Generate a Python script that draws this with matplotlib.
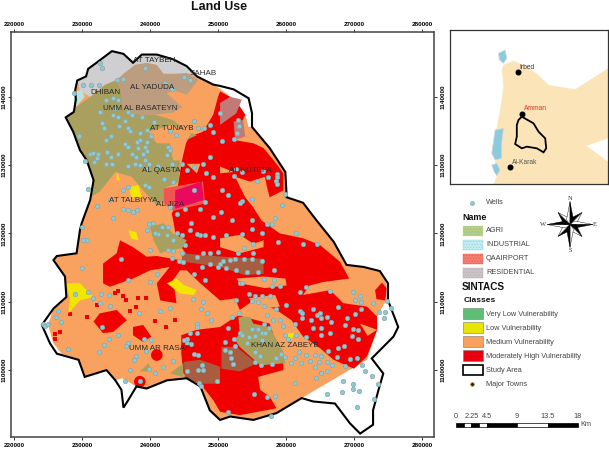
import numpy as np
import matplotlib
matplotlib.use("Agg")
import matplotlib.pyplot as plt
from matplotlib.patches import Polygon, Rectangle, Circle
from matplotlib.ticker import StrMethodFormatter

plt.rcParams['font.family'] = ['Liberation Sans', 'DejaVu Sans']
plt.rcParams['hatch.linewidth'] = 0.4

# ---------- map data (easting, northing in km) ----------
STUDY_AREA = [(227.6,1137),(228.8,1137.8),(229.1,1139.6),(229,1141),(229.3,1142.4),(230.6,1143),(230.9,1144.1),(232.4,1145.2),(234.4,1146.7),(236.1,1146.3),(237.5,1145),(238.8,1146.2),(241,1146.2),(243.4,1145.5),(245.4,1144.5),(246.9,1143),(249.3,1141.8),(250.3,1141.6),(252.3,1141.1),(254.5,1139.8),(255,1137.6),(255,1135.6),(257.6,1132.5),(259.9,1129),(260.1,1125.3),(262.5,1124.5),(264.5,1121.9),(267,1118.8),(268.9,1115.4),(271.4,1115.1),(273.8,1114.5),(275,1112.7),(275,1110.2),(276.5,1106.3),(275.8,1104.9),(272.6,1101.7),(274.3,1099.5),(273.6,1097.1),(272.8,1094.1),(272.8,1092),(270.9,1090.7),(269.4,1092.2),(267.2,1095.1),(264,1095.4),(262.3,1095.9),(258.6,1093.7),(255.2,1092.7),(251.8,1093.2),(250.3,1092.7),(248.8,1094.1),(247.4,1097.6),(245.4,1098.8),(242.5,1098.5),(239.5,1097.3),(238,1097.6),(236.8,1095.6),(236.1,1094.5),(235.8,1097.1),(234.9,1098.5),(233.6,1100),(230.4,1099),(229.5,1101.5),(226.3,1102.4),(225.3,1103.9),(224.1,1106.6),(225.8,1109),(227.7,1110.7),(227.5,1113.7),(225.8,1116.1),(226.3,1116.7),(229.2,1117.1),(229.7,1120.5),(229.95,1121.5),(231.2,1124.9),(231.7,1127.8),(230.7,1130.7),(229.7,1132.2),(228.7,1134.9)]

MEDIUM = [(227.6,1137),(228.8,1137.8),(229.1,1139.6),(229,1141),(229.3,1142.4),(230.6,1143),(230.9,1144.1),(232.4,1145.2),(234.4,1146.7),(236.1,1146.3),(237.5,1145),(238.8,1146.2),(241,1146.2),(243.4,1145.5),(245.4,1144.5),(246.9,1143),(249.3,1141.8),(250.3,1141.2),(251.8,1140),(253.2,1138.6),(254,1137.4),(254.5,1135.6),(255,1135.6),(257.6,1132.5),(259.9,1129),(260.1,1125.3),(262.5,1124.5),(264.5,1121.9),(267,1118.8),(268.9,1115.4),(271.4,1115),(273.8,1114.5),(274.8,1112.7),(274.8,1110.4),(273.4,1107.8),(273.4,1105.9),(271.9,1101.5),(262.3,1095.9),(258.6,1093.7),(255.2,1092.7),(251.8,1093.2),(250.3,1092.7),(248.8,1094.1),(247.4,1097.6),(245.4,1098.8),(242.5,1098.5),(239.5,1097.3),(238,1097.6),(235.9,1098.8),(234.9,1098.5),(233.6,1100),(230.4,1099),(229.5,1101.5),(227,1102.4),(225.8,1103.9),(225,1106.6),(225.8,1109),(227.7,1110.7),(227.5,1113.7),(225.8,1116.1),(226.3,1116.7),(229.2,1117.1),(229.7,1120.5),(229.95,1121.5),(231.2,1124.9),(231.7,1127.8),(230.7,1130.7),(229.7,1132.2),(228.7,1134.9)]

HIGH_MAIN = [(244.7,1130.7),(244.9,1132.7),(245.9,1134.2),(247.8,1134.9),(249.3,1137.4),(250,1140),(250.3,1140.8),(251.8,1140),(253.2,1138.6),(254,1137.4),(252.3,1133.7),(255.2,1133.2),(256.7,1132.5),(258.6,1130.2),(259.6,1128.8),(259.6,1126.3),(257.6,1125.3),(257.2,1126.8),(256.9,1128.3),(254.7,1127.6),(252.5,1128.3),(254,1125.3),(255.2,1123.8),(256.4,1121.9),(259.1,1120),(262.5,1119.3),(265,1118.3),(267.9,1115.9),(269.3,1113.4),(265.5,1112.9),(263.5,1112.4),(262.5,1111),(266.5,1111.7),(268.4,1109.8),(271.9,1109.3),(273.4,1107.8),(273.4,1105.9),(271.9,1102),(270,1100.2),(267,1101.5),(265,1103.2),(262.5,1104.9),(260.8,1107.3),(258.6,1108.8),(255.2,1110.2),(253.2,1108.8),(252.5,1110.5),(250.3,1110.2),(247.4,1112.7),(245.4,1114.6),(246.1,1115.9),(243.9,1119),(243.4,1122),(243.2,1122.9),(243.4,1123.3),(244.2,1127.5)]
HIGH_WEST = [(233.1,1115.6),(235.1,1117.1),(235.6,1119),(237.5,1118),(239.5,1116.6),(241,1116.7),(244.4,1116.1),(246.9,1115.6),(247.4,1114.6),(244.4,1114.6),(243.4,1113.2),(243.9,1109.8),(241.5,1110.2),(241,1112.7),(242.9,1115.1),(240,1114.6),(237.5,1113.4),(234.1,1112.2),(233.1,1112.7)]
HIGH_SOUTH = [(244.6,1105.1),(246.9,1105.9),(250.3,1106.3),(251.8,1107.3),(253,1108),(257.6,1106.8),(259.6,1101),(259.6,1100),(255.9,1099),(256.2,1097.1),(257.6,1096.1),(258.6,1094.4),(253.2,1093.4),(250.3,1093.9),(249.3,1095.6),(247.4,1098),(244.9,1099.5),(244.6,1102.4)]
HIGH_PATCH_1 = [(231.7,1107.1),(232.6,1108.3),(235.1,1108.8),(236.6,1107.3),(234.6,1105.6),(233.1,1105.4)]
HIGH_PATCH_2 = [(237.5,1106.3),(239,1106.6),(240.2,1104.9),(239,1104.1),(237.5,1105.1)]
HIGH_PATCH_3 = [(273.1,1111.7),(274.1,1112.8),(274.8,1112),(274.6,1110.2),(273.3,1110.4)]
HIGH_SPOTS = [(241,1102.2),(238.5,1098.3)]
HIGH_SPECKS = [(236,1110.8),(236.5,1110.3),(238.2,1110.5),(239.4,1110.5),(234.8,1111.3),(235.3,1111.6),(232.2,1109.5),(228.2,1108.2),(230.7,1107.7),(226,1105.3),(226,1104.6),(226.8,1105.6),(238,1109.2),(237,1108.6),(240.7,1107.2),(242.3,1106.3),(243.7,1107.4)]

MEDIUM_STREAKS = [
    [(250.3,1119.3),(253.2,1119.8),(255.2,1118.5),(256.7,1119),(256.7,1118),(253.2,1117.1),(250.3,1118)],
    [(252.7,1113.4),(256.7,1113.7),(259.9,1113.4),(260.1,1112.4),(256.9,1112),(253.2,1112.7)],
    [(254.5,1110.5),(258.4,1111),(259.1,1109.3),(256.7,1109)],
    [(245.4,1130.2),(247.4,1130.2),(246.9,1128.8)],
    [(250.3,1129.8),(252.3,1129),(250.3,1128.8)],
    [(270.9,1106.8),(273.4,1105.9),(272,1105)],
]

LOW = [
    [(236.8,1126.8),(238.3,1127.1),(238.8,1125.3),(237.3,1125.3)],
    [(235.1,1129),(235.6,1127.8),(235.1,1127.8)],
    [(227.7,1112.7),(229.7,1112.7),(231.7,1110.7),(229.7,1110.2),(228,1108.3),(228.2,1110.5)],
    [(242.5,1112.7),(243.9,1113.4),(244.9,1112.5),(246.9,1111.7),(246.4,1111),(244.4,1111.2)],
    [(259.9,1105.4),(261.3,1105.4),(260.8,1104.5),(260.1,1104.6)],
    [(236.8,1120.5),(238,1120.2),(238.3,1119),(237.3,1119.2)],
]

RESIDENTIAL = [(229.7,1140.9),(229.3,1142.4),(230.6,1142.9),(230.9,1144.1),(232.4,1145.2),(234.4,1146.7),(236.1,1146.3),(237.5,1145),(238.8,1146.2),(241,1146.2),(243.4,1145.5),(245.4,1144.5),(246.9,1143),(245.4,1143.5),(243.9,1143.4),(242,1143.4),(241,1144.7),(239.5,1145),(237.8,1144.7),(236.1,1143.4),(235.1,1142.5),(233.4,1141.8),(231.2,1140)]
RES_ON_MEDIUM = [(236.1,1143.4),(237.8,1144.7),(239.5,1145),(241,1144.7),(242,1143.4),(245.4,1143.5),(247.1,1142.5),(245.4,1140.3),(243.4,1141),(242.5,1140.5),(244.7,1138.5),(243.4,1137.7),(240.7,1137.4),(237.1,1137.5),(236,1138.6),(235.7,1141),(235.1,1142.5)]
AGRI_NORTH = [(229.1,1138.5),(231.2,1140),(233.4,1141.8),(235.1,1142.5),(235.7,1141),(236,1138.6),(237.1,1137.5),(240.7,1137.4),(243.4,1136.6),(245.4,1135),(246.9,1134.4),(245.4,1133.7),(244.7,1132.2),(244.4,1130.5),(244.2,1127.5),(242,1126.6),(242,1124.9),(241,1124.1),(239,1126.3),(237.3,1128.3),(234.9,1129),(232.6,1126.1),(231.2,1125.3),(231.7,1127.8),(230.7,1130.7),(229.7,1132.2),(228.7,1134.9),(227.6,1137),(228.8,1137.8)]
MEDIUM_IN_AGRI = [(239.8,1134.9),(243.2,1135.9),(246.1,1134.7),(245.4,1133.7),(244.7,1130.7),(243.4,1130.7),(242.9,1133.2),(241,1133.2)]
AGRI_SMALL = [
    [(240,1121),(242,1121.5),(243.4,1120),(245.4,1119),(244.7,1117.8),(242.9,1117.6),(241.5,1117.1),(240.5,1119)],
    [(253,1107.8),(254.7,1107.8),(255.2,1106.8),(257.6,1106.3),(259.6,1102.7),(259.9,1101),(256.2,1100.7),(253.2,1103.4),(252.5,1104.4),(253.2,1105.4)],
    [(242.9,1099.5),(244.9,1101),(244.9,1099)],
    [(238.5,1099.8),(239.8,1101),(240.2,1099.8)],
]
AGRI_ON_HIGH = [
    [(244.7,1117.1),(250.8,1116.6),(256.7,1116.3),(256.7,1114.1),(254,1113.9),(250.3,1115.1),(244.7,1115.9)],
    [(250.5,1103.4),(252.7,1103.4),(255.7,1101),(253.2,1099.8),(250.5,1100.2)],
    [(245,1101.2),(247.4,1101.5),(250.3,1100.5),(250.3,1098),(247.4,1098),(245.1,1098.8)],
]
RES_ON_HIGH = [
    [(250.3,1139.1),(251.8,1140),(253.5,1139.6),(252.7,1137.6),(250.3,1135.9)],
    [(252.3,1136.4),(253.7,1136.6),(254,1134.2),(252.5,1133.7)],
]
INDUSTRIAL = [(228.8,1140.8),(230,1141),(230.4,1140),(229.2,1138.6),(228.8,1139)]
AIRPORT_OUTER = [(242,1126.6),(247.8,1127.6),(248.1,1124.4),(243.4,1123.3),(242,1124.4)]
AIRPORT_INNER = [(243.7,1126.3),(247.6,1127.6),(247.9,1124.9),(243.7,1123.6)]

WELLS_NORTH = [(232.6,1145),(233,1144.3),(230.2,1141.7),(231.3,1141.7),(232.5,1141.8),(235.1,1142.4),(236.1,1142.6),(239.3,1144.2),(242.2,1142.1),(243.2,1141.1),(245,1142.9),(245.9,1142.4),(228.8,1140.5),(233.5,1139.6),(234.5,1139.8),(235.3,1139.6),(234.9,1138.3),(232.6,1137.8),(234.6,1137.4),(235.3,1137.1),(236.8,1137.8),(237.4,1137.3),(238.8,1137),(232.9,1136.2),(233.3,1135.4),(235.5,1135.8),(236.3,1136.4),(236.8,1135.5),(237.1,1135),(240.6,1136.3),(239.5,1135.2),(246.5,1136.5),(247.1,1135.5),(242.9,1135),(243.8,1134.4),(240.2,1134.2),(248.8,1135.9),(247.9,1135.4),(249.3,1134.9),(229.5,1134.3),(234.3,1134.3),(233.6,1133.7),(238.5,1134.7),(238.5,1133.7),(238.1,1133.4),(239.5,1133.4),(236.3,1133.1),(236.8,1132.6),(238.3,1132.5),(239.3,1132.7),(239.5,1132.1),(239,1131.7),(242.7,1132.7),(242.9,1132.2),(242.5,1131.5),(231.2,1131.7),(231.6,1131.8),(232.3,1131.6),(233.7,1132),(234.2,1131.2),(235.3,1131.6),(237.3,1131.7),(238,1131.2),(232.2,1131),(230.4,1130.6),(231.8,1130.4),(233.6,1130.2),(234.4,1130.2),(236.7,1129.9),(237.8,1130.2),(238.5,1130),(239.3,1130.7),(239.8,1130.2),(239.5,1129.5),(241.2,1129.9),(243.2,1130.2),(242,1128),(243.4,1127.5),(244.7,1130.2),(245.4,1129.3),(246.4,1129.8),(247.8,1130.2),(248.8,1131.2),(248.3,1128.8),(249.3,1128.3),(230.9,1126.5),(236.1,1126.3),(236.8,1126.8),(239.3,1127.1),(239.8,1126.8),(246.4,1126.3),(234.1,1124.9),(232.2,1124),(236.1,1123.6),(236.8,1123.4),(237.5,1123.1),(238.1,1123.4),(234.6,1122.2),(248.1,1124.6),(249.3,1122.4),(245.1,1123.6),(243.9,1122.9),(242.9,1123.9),(247.4,1123.6)]
WELLS_NORTHEAST = [(250.3,1137.6),(252.9,1136.6),(253.1,1135.7),(252.8,1134.7),(252.4,1133.9),(250.6,1133.5),(252.6,1129.5),(253.6,1129),(252.4,1128.4),(256.6,1129.2),(257.4,1128.3),(258.7,1128.7),(258.7,1128.2),(258.6,1127.7),(258.7,1127.3),(255.8,1127.7),(250.6,1126.3),(251.4,1125.7),(255,1125),(253.6,1124.7),(253.3,1124.4),(259.8,1125.8),(259.4,1124.2),(250.5,1123.1),(258.4,1122.2),(255,1121.9),(252,1121.9)]
WELLS_SOUTHEAST = [(251.2,1119.8),(253.6,1119.9),(255,1120.7),(256.4,1120.1),(257.2,1121.4),(257.9,1121.4),(258.8,1118.8),(261.5,1120.1),(262.5,1118.4),(264.5,1118.5),(255.2,1118.5),(253.8,1117.9),(253,1117.1),(255.2,1117.2),(255,1116.3),(250.8,1115.9),(251.8,1116.1),(252.5,1116.2),(253.8,1116.2),(256.4,1116),(250.3,1115.6),(251.2,1114.9),(252.7,1114.6),(254.2,1114.4),(255.9,1114.4),(256.7,1113.3),(258.2,1114.7),(258.3,1113.2),(259.1,1112.3),(258,1112.3),(253.3,1112.8),(253.6,1112.7),(254.6,1111.1),(255.5,1110.9),(256.5,1110.9),(257.7,1110.8),(262,1111.5),(262.9,1112.1),(266.5,1111.6),(269.9,1111.4),(270.9,1110.9),(270.1,1110.2),(271,1110),(252.6,1110.3),(255,1110.1),(255.9,1109.9),(256.7,1109.4),(260,1109.6),(258.5,1108.9),(263.9,1109),(267.7,1109.2),(262,1108.7),(262.3,1108.3),(264.5,1108),(265,1108.4),(266,1107.8),(265.1,1107.6),(262.3,1107.6),(263.7,1107.3),(266.6,1107.1),(268.9,1107.6),(270.1,1108.2),(271,1109),(272.8,1109.8),(273.6,1108.5),(274.6,1108.5),(274.8,1110.1),(275.4,1109.1),(274.4,1107.6),(257.2,1108),(258.1,1107.4),(259.1,1107.4),(253.1,1108.4),(252.1,1107.7),(259.5,1106.4),(261.3,1106.8),(268.7,1106.6),(264,1106.2),(265.2,1106.2),(266.4,1105.5),(265.1,1105.1),(269.9,1106),(270.6,1105.8),(269.7,1105),(270.6,1104.6),(263,1104.9),(261.5,1105.1),(259.9,1105.1),(260.3,1104.6),(251.5,1106.2),(256.7,1106.7),(255.9,1106),(255,1106),(254.5,1104.9),(253.2,1105.4),(253.5,1105.1),(255.4,1105),(256.4,1105.4),(257.5,1106.1),(256.9,1105.4),(252.4,1104.6),(256.4,1104.4),(251,1104.1),(254.2,1104),(252.5,1103.5),(251,1102.9),(255.4,1102.7),(251.7,1102.7),(251.9,1101.7),(256.2,1102),(252.2,1100.9),(255.4,1101.2),(257.9,1100.9),(256.3,1100.7),(258.6,1101.7),(259.3,1102.4),(259.9,1101.9),(260.8,1101),(261.3,1101.7),(262.2,1101.1),(261.9,1102.6),(262.9,1102.2),(263.5,1101.4),(264.2,1102.2),(265.2,1102),(266,1101.2),(264.8,1101.2),(264.3,1100.5),(266,1099.8),(265.1,1099.5),(264.4,1098.9),(266.8,1100.8),(267.5,1101.9),(267.7,1103.2),(268.5,1103.5),(266.2,1102.8),(269.4,1101.6),(270.4,1101.7),(268.7,1100.6),(271.2,1100.8),(271.6,1099.9),(272.6,1099.2),(273.5,1098),(268.4,1098.4),(269.8,1098),(269.9,1097.2),(270.8,1096.9),(268.2,1096.8),(266,1096.5),(272.9,1095.8),(270.5,1094.6),(261.3,1098.1),(255.3,1096.5),(257.2,1096),(258.4,1096.2),(257.8,1093.3),(251.5,1093.9)]
WELLS_SOUTHWEST = [(230,1120.9),(230.1,1119),(230.8,1119.1),(230,1115),(235.8,1116.3),(240,1117.6),(241,1114.1),(236.7,1113.2),(240,1112.9),(230.9,1111.4),(232.8,1111.1),(233.9,1111),(231.6,1110.5),(229,1111.2),(232.6,1109.8),(234.1,1109.4),(238.4,1108.4),(241.5,1108.7),(242.9,1109.1),(246.3,1110.4),(247.5,1109),(248.4,1108.4),(248.9,1107.4),(246.9,1106.8),(246.9,1106.3),(226.9,1107),(226.2,1107.8),(224.3,1106.7),(224.6,1106.4),(225,1106.7),(226.5,1108.7),(232.9,1106.3),(233.9,1104.6),(235.3,1105.2),(239.1,1104.5),(240.1,1104.4),(245.9,1105.4),(245.4,1104.6),(246.9,1105.5),(245,1104.4),(246.1,1103.8),(245.4,1103.9),(236.8,1103.9),(236.5,1103.5),(233.2,1103.6),(232.5,1102.6),(228,1103.1),(239.4,1102.8),(238,1102),(237.7,1101.5),(243.4,1101.4),(241.9,1100.4),(239.9,1100.2),(240.7,1099.6),(237.1,1100),(236.3,1098.4),(238.5,1098.4),(245.4,1099.8),(247.1,1102.2),(246.4,1102.3),(247.7,1100.8),(247.1,1100),(247.8,1100),(249.8,1098.4),(247.2,1098.1),(247.5,1097.7),(248.1,1113.2),(247.8,1110),(246.4,1114.1),(247.6,1115.1),(248.8,1115.6),(250,1115.1),(246.9,1116.6),(247.8,1117.1),(248.8,1117.1),(250,1117.3),(244.2,1116),(244.9,1115.8),(243.2,1116.4),(244.7,1117.1),(242.7,1117.6),(243.4,1117.5),(247.4,1119.8),(248.1,1119.8),(249.3,1119.5),(246.9,1119.9),(245.9,1120.5),(246.1,1121.6),(244.7,1119.8),(243.9,1120),(242.5,1119.8),(241.2,1119.9),(240.7,1120),(239.5,1120.5),(239.8,1121.4),(240.5,1121.5),(241.7,1121),(242.7,1121),(243.4,1119),(245.1,1118.3)]

PLACE_NAMES = ["AT TAYBEH","SAHAB","DHIBAN","AL YADUDA","UMM AL BASATEYN","AT TUNAYB","AL QASTAL","AL JIZA","AT TALBIYYA","AL KUTEFA","UMM AR RASAS","KHAN AZ ZABEYB"]
PLACE_E = [240.6,247.8,233.4,240.3,238.5,243.2,242,242.9,237.5,254.8,241.4,259.8]
PLACE_N = [1145.4,1143.4,1140.7,1141.4,1138.3,1135.4,1129.2,1124.2,1124.9,1129.2,1103.1,1103.6]

X_TICKS = [220000,230000,240000,250000,260000,270000,280000]
Y_TICKS = [1100000,1110000,1120000,1130000,1140000]

# ---------- inset data ----------
COUNTRY = [(185,150),(190,135),(220,122),(260,140),(295,165),(325,195),(405,208),(503,145),(503,355),(437,378),(470,400),(503,425),(503,492),(160,492),(170,470),(165,420),(155,395),(170,320),(180,270),(190,200)]
LAKE_NORTH = [(175,100),(195,90),(200,115),(190,130),(178,120)]
LAKE_DEAD = [(165,330),(190,325),(185,370),(185,415),(165,420),(155,400)]
LAKE_SOUTH = [(155,435),(170,430),(180,450),(170,467),(162,455)]
INSET_STUDY = [(235,300),(245,290),(280,310),(295,335),(315,355),(318,385),(310,397),(290,385),(260,380),(245,385),(225,372),(230,350),(230,315)]
TOWNS = ["Irbed","Amman","Al-Karak"]
TOWN_X = [233,247,209]
TOWN_Y = [157,283,442]
TOWN_LABEL_X = [238,251,215]
TOWN_LABEL_Y = [143,267,427]
TOWN_COLORS = ["#333333","#E0301E","#555555"]

# ---------- legend data ----------
LAND_CLASSES = ["AGRI","INDUSTRIAL","QAAIRPORT","RESIDENTIAL"]
LAND_COLORS = ["#A9C98C","#C5EBF2","#F47F70","#C9C5CB"]
LAND_HATCH_COLORS = ["#E3DC70","#8FD0DA","#E85A55","#BFA8A8"]
VULN_CLASSES = ["Very Low Vulnerability","Low Vulnerability","Medium Vulnerability","Moderately High Vulnerability"]
VULN_COLORS = ["#5CBF75","#E6E600","#F9A05C","#E8000F"]
SCALE_STOPS = [0,1.125,2.25,3.375,4.5,9,13.5,18]
SCALE_LABELS = [0,2.25,4.5,9,13.5,18]

C_ORANGE, C_RED, C_OLIVE, C_BROWN = "#F9A25F", "#F00000", "#A9A060", "#A85C40"
W, H = 609, 450
fig = plt.figure(figsize=(W/100, H/100), dpi=100, facecolor="white")

def px_axes(l, t, r, b, **kw):
    return fig.add_axes([l/W, 1-b/H, (r-l)/W, (b-t)/H], **kw)

# ---------- main map ----------
ax = px_axes(11, 32, 434, 437)
ax.set_xlim(219560, 281760)
ax.set_ylim(1090200, 1149500)

def poly(pts, color, z):
    xy = np.array(pts) * 1000
    ax.add_patch(Polygon(xy, closed=True, fc=color, ec="none", zorder=z))

poly(MEDIUM, C_ORANGE, 1)
for p in (HIGH_MAIN, HIGH_WEST, HIGH_SOUTH, HIGH_PATCH_1, HIGH_PATCH_2, HIGH_PATCH_3):
    poly(p, C_RED, 2)
for e, n in HIGH_SPOTS:
    ax.add_patch(Circle((e*1000, n*1000), 850, fc=C_RED, ec="none", zorder=2))
specks = np.array(HIGH_SPECKS) * 1000
ax.scatter(specks[:,0], specks[:,1], s=5, c=C_RED, marker="s", linewidths=0, zorder=2)
for p in MEDIUM_STREAKS:
    poly(p, C_ORANGE, 3)
for p in LOW:
    poly(p, "#F2E600", 3)
poly(AGRI_NORTH, C_OLIVE, 4)
poly(MEDIUM_IN_AGRI, C_ORANGE, 4.5)
for p in AGRI_SMALL:
    poly(p, C_OLIVE, 4)
for p in AGRI_ON_HIGH:
    poly(p, C_BROWN, 4)
poly(RES_ON_MEDIUM, "#BC9D80", 4)
poly(RESIDENTIAL, "#CFCED1", 4)
for p in RES_ON_HIGH:
    poly(p, "#C27A78", 4)
poly(INDUSTRIAL, "#BEE3DE", 4)
poly(AIRPORT_OUTER, "#F0564F", 4)
poly(AIRPORT_INNER, "#E90A60", 4.2)

study = np.array(STUDY_AREA) * 1000
ax.add_patch(Polygon(study, closed=True, fc="none", ec="black", lw=1.5, zorder=5))

wells = np.array(WELLS_NORTH + WELLS_NORTHEAST + WELLS_SOUTHEAST + WELLS_SOUTHWEST) * 1000
ax.scatter(wells[:,0], wells[:,1], s=10, c="#8FC9D2", edgecolors="#86A8AC", linewidths=0.5, zorder=6)

for name, e, n in zip(PLACE_NAMES, PLACE_E, PLACE_N):
    ax.text(e*1000, n*1000, name, fontsize=5.8, color="#2A2A2A", ha="center", va="center", zorder=7)

fmt = StrMethodFormatter("{x:.0f}")
ax.set_xticks(X_TICKS)
ax.set_yticks(Y_TICKS)
ax.xaxis.set_major_formatter(fmt)
ax.yaxis.set_major_formatter(fmt)
ax.tick_params(axis="x", top=True, bottom=True, labeltop=True, labelbottom=False, length=2.2, width=0.7, pad=1.2, color="#333333")
ax.tick_params(axis="y", left=True, right=True, labelleft=True, length=2.2, width=0.7, pad=0.8, color="#333333")
for tick in ax.xaxis.get_major_ticks():
    tick.label2.set_fontweight("bold"); tick.label2.set_fontsize(4.6)
for tick in ax.yaxis.get_major_ticks():
    tick.label1.set_fontweight("bold"); tick.label1.set_fontsize(4.6)
    tick.label1.set_rotation(90); tick.label1.set_va("center")

sx = ax.secondary_xaxis("bottom")
sx.set_xticks(X_TICKS)
sx.xaxis.set_major_formatter(fmt)
sx.tick_params(length=0, pad=4.2, labelsize=4.6)
sx.spines["bottom"].set_visible(False)
for t in sx.get_xticklabels():
    t.set_fontweight("bold")

sy = ax.secondary_yaxis("right")
sy.set_yticks(Y_TICKS)
sy.yaxis.set_major_formatter(fmt)
sy.tick_params(length=0, pad=5, labelsize=4.6)
sy.spines["right"].set_visible(False)
for t in sy.get_yticklabels():
    t.set_rotation(90); t.set_va("center"); t.set_fontweight("bold")

for s in ax.spines.values():
    s.set_color("#444444"); s.set_linewidth(1.1)

# ---------- inset ----------
ins = px_axes(450, 30, 608, 184)
ins.set_xlim(30, 503); ins.set_ylim(492, 30)
ins.set_xticks([]); ins.set_yticks([])
for s in ins.spines.values():
    s.set_color("#333333"); s.set_linewidth(0.9)
ins.add_patch(Polygon(COUNTRY, fc="#FBE4B8", ec="none"))
for lake in (LAKE_NORTH, LAKE_DEAD, LAKE_SOUTH):
    ins.add_patch(Polygon(lake, fc="#8CCBDD", ec="#D8D8D8", lw=0.5))
ins.add_patch(Polygon(INSET_STUDY, fc="none", ec="black", lw=1.3))
ins.scatter(TOWN_X, TOWN_Y, s=11, c="black", zorder=4)
for name, lx, ly, c in zip(TOWNS, TOWN_LABEL_X, TOWN_LABEL_Y, TOWN_COLORS):
    ins.text(lx, ly, name, fontsize=4.8, color=c, va="center")

# ---------- overlay: title, legend, scale bar, compass ----------
ov = fig.add_axes([0, 0, 1, 1], facecolor="none")
ov.set_xlim(0, W); ov.set_ylim(H, 0); ov.axis("off")
ov.text(219, 7, "Land Use", fontsize=8.9, fontweight="bold", ha="center", va="center", color="#111111")

TXT = "#444444"
def row_text(y, s):
    ov.text(486, y, s, fontsize=5.35, color=TXT, va="center")

ov.scatter([472], [203], s=9, c="#8FC9D2", edgecolors="#86A8AC", linewidths=0.4)
row_text(203, "Wells")
ov.text(462, 217, "Name", fontsize=6.4, fontweight="bold", va="center", color="#111111")
for i, (name, col, hc) in enumerate(zip(LAND_CLASSES, LAND_COLORS, LAND_HATCH_COLORS)):
    y = 226 + i*13.9
    ov.add_patch(Rectangle((463, y), 20, 10, fc=col, ec=hc, lw=0.3, hatch="......"))
    row_text(y+5, name)
ov.text(462, 287, "SINTACS", fontsize=7.2, fontweight="bold", va="center", color="#111111")
ov.text(464, 300, "Classes", fontsize=6, fontweight="bold", va="center", color="#111111")
for i, (name, col) in enumerate(zip(VULN_CLASSES, VULN_COLORS)):
    y = 308 + i*14
    ov.add_patch(Rectangle((462.5, y), 20.5, 11, fc=col, ec="#777777", lw=0.4))
    row_text(y+6, name)
ov.add_patch(Rectangle((462.5, 364.5), 20.5, 10.5, fc="white", ec="black", lw=1.2))
row_text(370, "Study Area")
ov.scatter([472], [384], s=7, c="#222222", edgecolors="#C08A30", linewidths=0.5)
row_text(384, "Major Towns")

# scale bar
sx0, sk = 456, 122/18
for i in range(len(SCALE_STOPS)-1):
    a, b = SCALE_STOPS[i], SCALE_STOPS[i+1]
    ov.add_patch(Rectangle((sx0+a*sk, 423), (b-a)*sk, 4, fc="black" if i % 2 == 0 else "white", ec="black", lw=0.5))
for v in SCALE_LABELS:
    ov.text(sx0+v*sk, 416.5, f"{v:g}", fontsize=5.35, color=TXT, ha="center", va="center")
ov.text(580, 424, "Km", fontsize=5.35, color=TXT, va="center")

# compass
cx, cy = 570, 224.5
def kite(ang, r, w, left, right):
    a = np.deg2rad(ang)
    u = np.array([np.sin(a), -np.cos(a)]); n = np.array([np.cos(a), np.sin(a)])
    c = np.array([cx, cy]); tip = c + u*r
    ov.add_patch(Polygon([c, tip, c + u*r*0.2 - n*w], fc=left, ec="black", lw=0.3, zorder=5))
    ov.add_patch(Polygon([c, tip, c + u*r*0.2 + n*w], fc=right, ec="black", lw=0.3, zorder=5))
for ang in (45, 135, 225, 315):
    kite(ang, 17, 4.5, "black", "white")
for ang in (0, 90, 180, 270):
    kite(ang, 23, 3.5, "white", "black")
for s, x, y in (("N", 570, 198), ("S", 570, 251), ("W", 543, 224), ("E", 595, 224)):
    ov.text(x, y, s, fontsize=4.6, family="Liberation Serif", color="#333333", ha="center", va="center")

fig.savefig("out.png", dpi=100)
